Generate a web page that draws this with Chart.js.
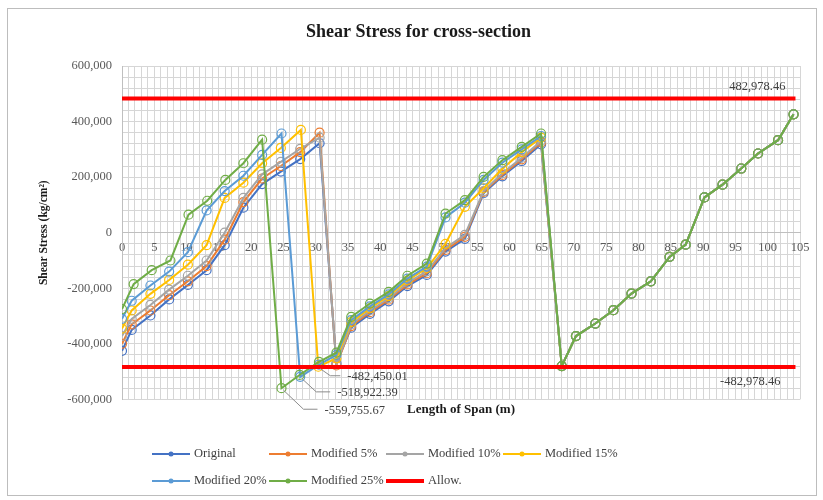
<!DOCTYPE html>
<html>
<head>
<meta charset="utf-8">
<script src="https://cdn.jsdelivr.net/npm/chart.js@4.4.1/dist/chart.umd.min.js"></script>
<style>
  html, body { margin: 0; padding: 0; background: #fff; }
  #wrap { position: relative; width: 823px; height: 500px; overflow: hidden; background: #fff; }
  #frame { position: absolute; left: 7px; top: 8px; width: 810px; height: 488px; border: 1px solid #bdbdbd; box-sizing: border-box; pointer-events: none; }
  #legend { position: absolute; left: 152px; top: 440px; display: grid; grid-template-columns: repeat(4, 117px); grid-auto-rows: 27px;
            font-family: "Liberation Serif", "Times New Roman", serif; font-size: 12.5px; color: #404040; }
  .item { display: flex; align-items: center; white-space: nowrap; }
  .sw { position: relative; width: 38px; height: 10px; margin-right: 4px; flex: none; }
  .sw .ln { position: absolute; left: 0; right: 0; top: 50%; transform: translateY(-50%); }
  .sw .mk { position: absolute; left: 50%; top: 50%; width: 5px; height: 5px; border-radius: 50%; transform: translate(-50%, -50%); }
</style>
</head>
<body>
<div id="wrap">
  <canvas id="c" width="823" height="500"></canvas>
  <div id="legend"></div>
  <div id="frame"></div>
</div>
<script>
// Station positions along the beam (m)
const xOriginal = [0, 1.5, 4.4, 7.3, 10.2, 13.1, 15.9, 18.8, 21.7, 24.6, 27.6, 30.6, 33.2];
const x15 = [0, 1.5, 4.4, 7.3, 10.2, 13.1, 15.9, 18.8, 21.7, 24.6, 27.7, 30.4, 33.2];
const x20 = [0, 1.5, 4.4, 7.3, 10.2, 13.1, 15.9, 18.8, 21.7, 24.7, 27.6, 30.5, 33.2];
const x25 = [0, 1.8, 4.6, 7.5, 10.3, 13.2, 16.0, 18.8, 21.7, 24.7, 27.5, 30.5, 33.2];
const spanTwoX = [35.5, 38.4, 41.3, 44.2, 47.2, 50.1, 53.1, 56.0, 58.9, 61.9, 64.9];
const spanThreeX = [68.1, 70.3, 73.3, 76.1, 78.9, 81.9, 84.8, 87.3, 90.2, 93.0, 95.9, 98.5, 101.6, 104.0];

// Shear stress (kg/cm²), spans one and two per case
const stressOriginal = [-425000, -350000, -298000, -240000, -188000, -135000, -45000, 90000, 175000, 220000, 265000, 322000, -470000,
  -342000, -292000, -247000, -192000, -152000, -68000, -22000, 142000, 203000, 258000, 318000];
const stress5 = [-400000, -330000, -280000, -225000, -175000, -120000, -25000, 110000, 195000, 240000, 290000, 360000, -478000,
  -336000, -286000, -241000, -186000, -146000, -62000, -15000, 147000, 208000, 264000, 325000];
const stress10 = [-372000, -310000, -260000, -205000, -155000, -100000, 0, 125000, 210000, 255000, 302000, 342000, -474000,
  -330000, -280000, -236000, -180000, -139000, -55000, -8000, 150000, 214000, 270000, 330000];
const stress15 = [-345000, -280000, -220000, -170000, -115000, -45000, 125000, 180000, 250000, 305000, 370000, -482450.01, -452000,
  -322000, -272000, -228000, -172000, -128000, -40000, 93000, 160000, 230000, 290000, 342000];
const stress20 = [-310000, -245000, -190000, -140000, -70000, 80000, 150000, 205000, 280000, 357000, -518922.39, -475000, -440000,
  -315000, -265000, -222000, -165000, -122000, 55000, 108000, 190000, 252000, 300000, 348000];
const stress25 = [-275000, -185000, -135000, -100000, 65000, 115000, 190000, 250000, 335000, -559755.67, -512000, -465000, -432000,
  -303000, -255000, -213000, -155000, -111000, 69000, 117000, 201000, 261000, 309000, 357000];
// Span three is common to every case
const spanThreeStress = [-480000, -372000, -327000, -279000, -219000, -175000, -87000, -43000, 127000, 173000, 231000, 285000, 333000, 426000];

// Allowable shear stress and the length it is drawn over
const allowStress = 482978.46;
const allowSpanX = [0, 104.3];

const seriesNames = ['Original', 'Modified 5%', 'Modified 10%', 'Modified 15%', 'Modified 20%', 'Modified 25%', 'Allow.'];
const xTickMax = 105;
const yTickMin = -600000, yTickMax = 600000;

const serif = '"Liberation Serif", "Times New Roman", serif';
Chart.defaults.font.family = serif;
Chart.defaults.color = '#595959';

function pairs(xs, ys) { return xs.map((x, i) => ({ x, y: ys[i] })); }

const colours = ['#4472C4', '#ED7D31', '#A5A5A5', '#FFC000', '#5B9BD5', '#70AD47', '#FF0000'];
const cases = [
  [xOriginal, stressOriginal], [xOriginal, stress5], [xOriginal, stress10],
  [x15, stress15], [x20, stress20], [x25, stress25]
];

const datasets = cases.map(([xs, ys], i) => ({
  label: seriesNames[i],
  data: pairs(xs.concat(spanTwoX, spanThreeX), ys.concat(spanThreeStress)),
  showLine: true,
  borderColor: colours[i],
  backgroundColor: colours[i],
  borderWidth: 2,
  pointRadius: 4.5,
  pointBorderWidth: 1.2,
  pointBackgroundColor: 'rgba(0,0,0,0)',
  pointBorderColor: colours[i],
  order: cases.length - i
}));
datasets.push({
  label: seriesNames[6],
  data: [
    { x: allowSpanX[0], y: allowStress }, { x: allowSpanX[1], y: allowStress },
    { x: allowSpanX[1], y: null },
    { x: allowSpanX[0], y: -allowStress }, { x: allowSpanX[1], y: -allowStress }
  ],
  showLine: true,
  spanGaps: false,
  borderColor: colours[6],
  backgroundColor: colours[6],
  borderWidth: 4,
  pointRadius: 0,
  order: 0
});

const fmt2 = v => v.toLocaleString('en-US', { minimumFractionDigits: 2, maximumFractionDigits: 2 });

// Callouts with leader lines for the minimum values, and limit labels for the allowable line
const valueLabels = {
  id: 'valueLabels',
  afterDatasetsDraw(chart) {
    const ctx = chart.ctx, sx = chart.scales.x, sy = chart.scales.y;
    ctx.save();
    ctx.font = '12.5px ' + serif;
    ctx.fillStyle = '#404040';
    ctx.strokeStyle = '#8c8c8c';
    ctx.lineWidth = 1;
    ctx.textBaseline = 'middle';
    const callouts = [
      { ds: 3, idx: 11, bend: [12, 9], end: [22, 9] },
      { ds: 4, idx: 10, bend: [16, 15], end: [30, 15] },
      { ds: 5, idx: 9, bend: [22, 21], end: [36, 21] }
    ];
    callouts.forEach(c => {
      const p = chart.data.datasets[c.ds].data[c.idx];
      const px = sx.getPixelForValue(p.x), py = sy.getPixelForValue(p.y);
      ctx.beginPath();
      ctx.moveTo(px + 2, py + 2);
      ctx.lineTo(px + c.bend[0], py + c.bend[1]);
      ctx.lineTo(px + c.end[0], py + c.end[1]);
      ctx.stroke();
      ctx.textAlign = 'left';
      ctx.fillText(fmt2(p.y), px + c.end[0] + 7, py + c.end[1] + 1);
    });
    const allow = chart.data.datasets[6].data;
    const rx = sx.getPixelForValue(allow[1].x);
    ctx.textAlign = 'right';
    ctx.fillText(fmt2(allow[1].y), rx - 10, sy.getPixelForValue(allow[1].y) - 12);
    ctx.fillText(fmt2(allow[4].y), rx - 15, sy.getPixelForValue(allow[4].y) + 15);
    ctx.restore();
  }
};

const chart = new Chart(document.getElementById('c'), {
  type: 'scatter',
  data: { datasets },
  options: {
    responsive: false,
    animation: false,
    layout: { padding: { left: 37, right: 23, top: 0, bottom: 83 } },
    plugins: {
      legend: { display: false },
      tooltip: { enabled: false },
      title: {
        display: true, text: 'Shear Stress for cross-section',
        font: { size: 18, weight: 'bold' }, color: '#1a1a1a',
        padding: { top: 22, bottom: 22.4 }
      }
    },
    scales: {
      x: {
        type: 'linear', position: { y: 0 }, min: 0, max: xTickMax,
        grid: { color: '#d6d6d6', drawTicks: false },
        border: { display: true, color: '#bfbfbf' },
        ticks: { stepSize: 1, autoSkip: false, maxRotation: 0, padding: 8, font: { size: 12.5 },
                 callback: v => (v % 5 === 0 ? String(v) : '') }
      },
      x2: {
        type: 'linear', position: 'bottom', min: 0, max: xTickMax,
        grid: { display: false, drawTicks: false }, border: { display: false },
        ticks: { display: false },
        title: { display: true, text: 'Length of Span (m)', font: { size: 13, weight: 'bold' }, color: '#1a1a1a', padding: { top: 2, bottom: 0 } }
      },
      y: {
        type: 'linear', position: 'left', min: yTickMin, max: yTickMax,
        afterFit(s) { s.width = 85; },
        grid: { color: '#d6d6d6', drawTicks: false },
        border: { display: true, color: '#bfbfbf' },
        ticks: { stepSize: 40000, autoSkip: false, padding: 10, font: { size: 12.5 },
                 callback: v => (v % 200000 === 0 ? v.toLocaleString('en-US') : '') },
        title: { display: true, text: 'Shear Stress (kg/cm²)', font: { size: 11.5, weight: 'bold' }, color: '#1a1a1a', padding: { top: 0, bottom: 0 } }
      }
    }
  },
  plugins: [valueLabels]
});

// Legend laid out in fixed columns below the plot
const legendEl = document.getElementById('legend');
chart.data.datasets.forEach(ds => {
  const item = document.createElement('div');
  item.className = 'item';
  const sw = document.createElement('span');
  sw.className = 'sw';
  const ln = document.createElement('span');
  ln.className = 'ln';
  ln.style.background = ds.borderColor;
  ln.style.height = (ds.borderWidth > 2 ? 4 : 2) + 'px';
  sw.appendChild(ln);
  if (ds.pointRadius > 0) {
    const mk = document.createElement('span');
    mk.className = 'mk';
    mk.style.background = ds.borderColor;
    sw.appendChild(mk);
  }
  item.appendChild(sw);
  const tx = document.createElement('span');
  tx.textContent = ds.label;
  item.appendChild(tx);
  legendEl.appendChild(item);
});
</script>
</body>
</html>
